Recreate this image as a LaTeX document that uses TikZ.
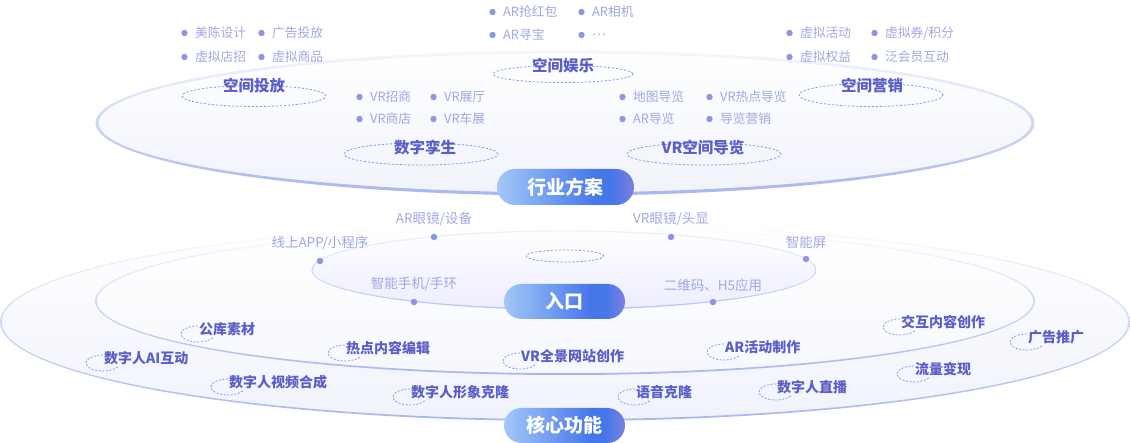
\documentclass[tikz,border=0pt]{standalone}
\usepackage{fontspec}
\setmainfont{Noto Sans CJK SC}
\usetikzlibrary{shapes.geometric}
\usetikzlibrary{positioning}

\definecolor{ringA}{HTML}{EEF2FD}
\definecolor{ringB}{HTML}{A9B6EE}
\definecolor{fillB}{HTML}{F1F3FC}
\definecolor{itemtxt}{HTML}{A0A8E1}
\definecolor{itemdot}{HTML}{8C96E1}
\definecolor{headtxt}{HTML}{5A5FC8}
\definecolor{dashc}{HTML}{7E9EEE}
\definecolor{pillA}{HTML}{A2C7F8}
\definecolor{pillB}{HTML}{4677E9}
\definecolor{pillC}{HTML}{7C80E0}

\pgfdeclarehorizontalshading{pillshade}{100bp}{color(0bp)=(pillA); color(25bp)=(pillA); color(61bp)=(pillB); color(67bp)=(pillB); color(75bp)=(pillC); color(100bp)=(pillC)}

\begin{document}
\begin{tikzpicture}[x=1pt, y=-1pt,
    pill/.style={shade, shading=pillshade, rounded corners=17.5pt, minimum width=121pt, minimum height=35pt, inner sep=0, text=white, font=\fontsize{19}{19}\selectfont\bfseries},
    ghost/.style={ellipse, draw=dashc, dash pattern=on 2.2pt off 1.8pt, line width=0.8pt, inner sep=0},
    head/.style={inner sep=0, text=headtxt, font=\fontsize{15.5}{16}\selectfont\bfseries},
    item/.style={anchor=west, inner sep=0, text=itemtxt, font=\fontsize{12.75}{13}\selectfont},
    edot/.style={circle, fill=itemdot, inner sep=0, minimum size=6.5pt},
    entry/.style={inner sep=0, text=itemtxt, font=\fontsize{13.5}{14}\selectfont},
    feat/.style={anchor=west, inner sep=0, text=headtxt, font=\fontsize{14}{14}\selectfont\bfseries},
    featring/.style={draw=dashc, dash pattern=on 2pt off 1.6pt, line width=0.8pt},
    ringline/.style={top color=white, middle color=ringB!50!white, bottom color=ringB, even odd rule}]

    \useasboundingbox (0,0) rectangle (1130,443);

    % Outer ring
    \shade[top color=white, bottom color=fillB] (565,322) ellipse [x radius=564, y radius=98];
    \shade[ringline] (565,322) ellipse [x radius=565, y radius=99] (565,322) ellipse [x radius=563.2, y radius=97.2];

    % Middle ring
    \shade[top color=white, bottom color=fillB!60] (565,301) ellipse [x radius=469, y radius=73];
    \shade[ringline] (565,301) ellipse [x radius=470, y radius=74] (565,301) ellipse [x radius=468.2, y radius=72.2];

    % Entry ring
    \shade[top color=white, bottom color=blue!7] (564,270) ellipse [x radius=252, y radius=39];
    \shade[top color=ringA, bottom color=ringB!80, even odd rule] (564,270) ellipse [x radius=252.7, y radius=39.7] (564,270) ellipse [x radius=251.3, y radius=38.3];
    \node[ghost, minimum width=78pt, minimum height=12pt] (hub) at (565,256) {};

    % Entry points
    \node[edot] (d1) at (434,237) {};
    \node[edot] (d2) at (671,237) {};
    \node[edot] (d3) at (320,261) {};
    \node[edot] (d4) at (806,259) {};
    \node[edot] (d5) at (414,302) {};
    \node[edot] (d6) at (713,302) {};
    \node[entry, above=7pt of d1] (e1) {AR眼镜/设备};
    \node[entry, above=7pt of d2] (e2) {VR眼镜/头显};
    \node[entry, above=7pt of d3] (e3) {线上APP/小程序};
    \node[entry, above=7pt of d4] (e4) {智能屏};
    \node[entry, above=7pt of d5] (e5) {智能手机/手环};
    \node[entry, above=7pt of d6] (e6) {二维码、H5应用};

    % Core functions
    \foreach \x/\y/\t [count=\i] in {199/329/公库素材, 104/358/数字人AI互动, 229/382/数字人视频合成,
        346/348/热点内容编辑, 521/356/VR全景网站创作, 725/347/AR活动制作,
        411/392/数字人形象克隆, 636/392/语音克隆, 777/387/数字人直播,
        901/322/交互内容创作, 1028/337/广告推广, 915/369/流量变现} {
        \draw[featring] (\x-1,\y-3) arc[start angle=270, end angle=25, x radius=17, y radius=8];
        \node[feat] (f\i) at (\x,\y) {\t};
    }

    % Industry solutions
    \shade[top color=white, bottom color=fillB] (565,123) ellipse [x radius=468, y radius=71];
    \shade[top color=ringA!60!white, middle color=ringB!90!blue!85, bottom color=ringB, even odd rule] (565,123) ellipse [x radius=469.6, y radius=72.6] (565,123) ellipse [x radius=466.4, y radius=69.4];

    \node[ghost, minimum width=144pt, minimum height=21pt] (g1) at (254,96) {};
    \node[ghost, minimum width=140pt, minimum height=17pt] (g2) at (563,74) {};
    \node[ghost, minimum width=154pt, minimum height=22pt] (g3) at (421,154) {};
    \node[ghost, minimum width=154pt, minimum height=22pt] (g4) at (704,154) {};
    \node[ghost, minimum width=144pt, minimum height=23pt] (g5) at (871,95) {};
    \node[head] (h1) at (254,86) {空间投放};
    \node[head] (h2) at (563,66) {空间娱乐};
    \node[head] (h3) at (425,148) {数字孪生};
    \node[head] (h4) at (703,148) {VR空间导览};
    \node[head] (h5) at (872,86) {空间营销};

    \node[item] (t1) at (195,33) {美陈设计};
    \node[item] (t2) at (272,33) {广告投放};
    \node[item] (t3) at (195,57) {虚拟店招};
    \node[item] (t4) at (272,57) {虚拟商品};
    \node[item] (t5) at (503,12) {AR抢红包};
    \node[item] (t6) at (592,12) {AR相机};
    \node[item] (t7) at (503,35) {AR寻宝};
    \node[item] (t8) at (592,35) {…};
    \node[item] (t9) at (370,97) {VR招商};
    \node[item] (t10) at (444,97) {VR展厅};
    \node[item] (t11) at (370,119) {VR商店};
    \node[item] (t12) at (444,119) {VR车展};
    \node[item] (t13) at (633,97) {地图导览};
    \node[item] (t14) at (720,97) {VR热点导览};
    \node[item] (t15) at (633,119) {AR导览};
    \node[item] (t16) at (720,119) {导览营销};
    \node[item] (t17) at (800,33) {虚拟活动};
    \node[item] (t18) at (885,33) {虚拟券/积分};
    \node[item] (t19) at (800,57) {虚拟权益};
    \node[item] (t20) at (885,57) {泛会员互动};
    \foreach \n in {1,...,20} {
        \fill[itemdot] ([xshift=-10.5pt]t\n.west) circle (3.2);
    }

    % Labels
    \node[pill, minimum width=137pt, minimum height=36pt, rounded corners=18pt] (sol) at (565.5,187) {行业方案};
    \node[pill] (entr) at (564.5,301.5) {入口};
    \node[pill] (core) at (564.5,425.5) {核心功能};
\end{tikzpicture}
\end{document}
